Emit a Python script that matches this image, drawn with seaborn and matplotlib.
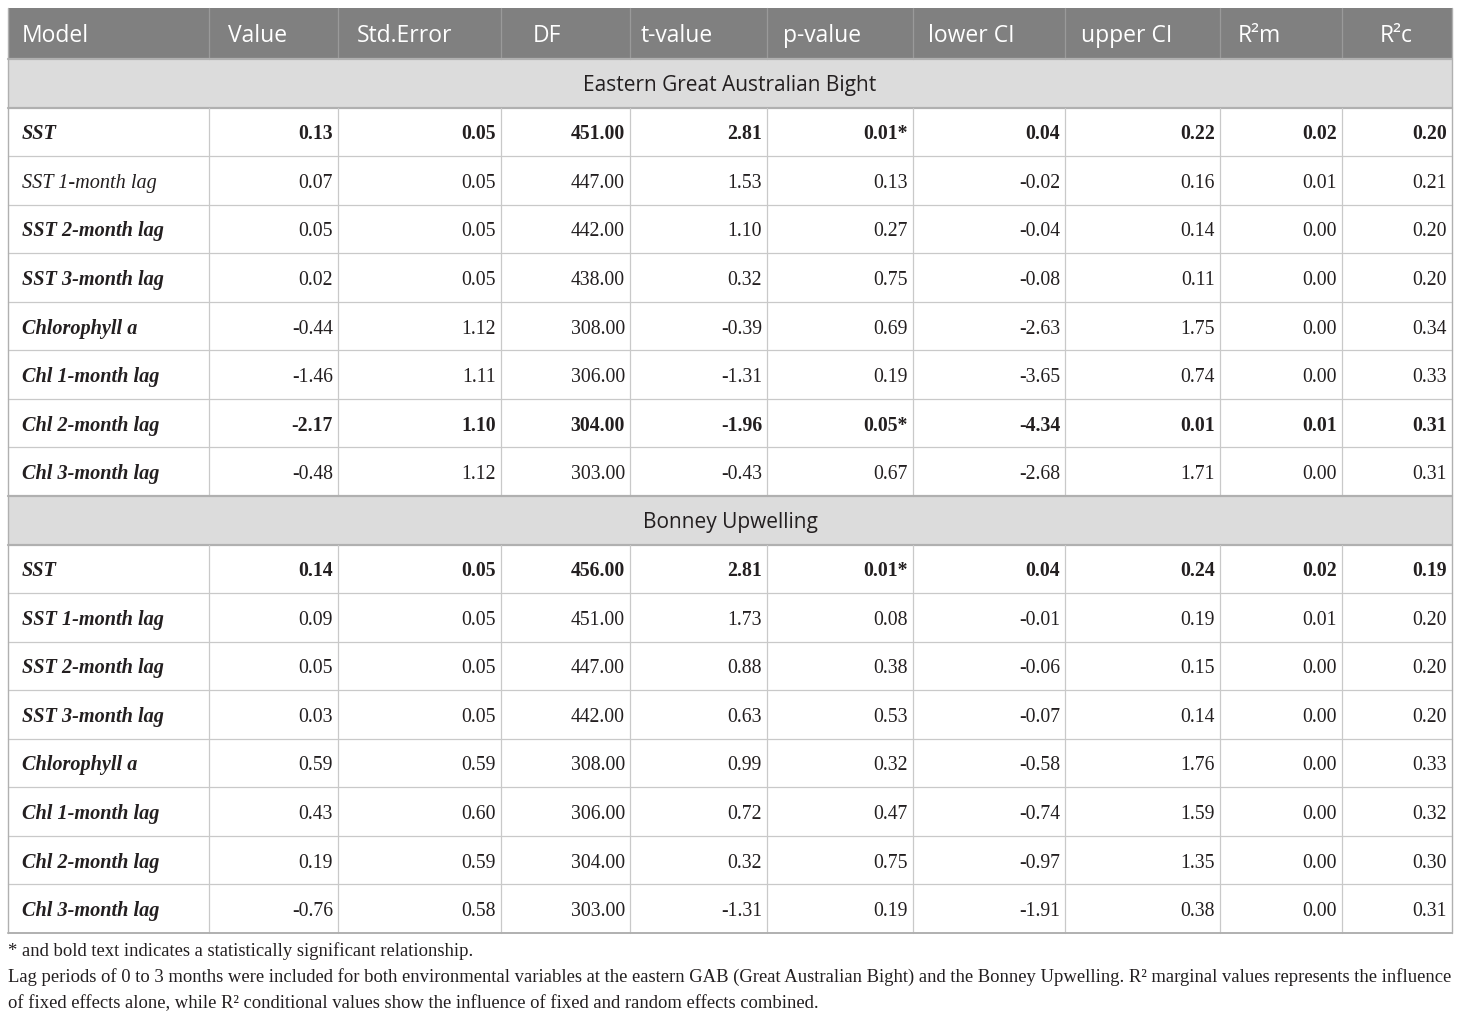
import matplotlib
matplotlib.use("Agg")
import matplotlib.pyplot as plt
import seaborn as sns
from matplotlib.patches import Rectangle

# ---------------- data ----------------
columns = ["Model", "Value", "Std.Error", "DF", "t-value", "p-value",
           "lower CI", "upper CI", "R\u00b2m", "R\u00b2c"]
sections = ["Eastern Great Australian Bight", "Bonney Upwelling"]
models = ["SST", "SST 1-month lag", "SST 2-month lag", "SST 3-month lag",
          "Chlorophyll a", "Chl 1-month lag", "Chl 2-month lag", "Chl 3-month lag"]

egab_value = [0.13, 0.07, 0.05, 0.02, -0.44, -1.46, -2.17, -0.48]
egab_se = [0.05, 0.05, 0.05, 0.05, 1.12, 1.11, 1.10, 1.12]
egab_df = [451.00, 447.00, 442.00, 438.00, 308.00, 306.00, 304.00, 303.00]
egab_t = [2.81, 1.53, 1.10, 0.32, -0.39, -1.31, -1.96, -0.43]
egab_p = [0.01, 0.13, 0.27, 0.75, 0.69, 0.19, 0.05, 0.67]
egab_lo = [0.04, -0.02, -0.04, -0.08, -2.63, -3.65, -4.34, -2.68]
egab_hi = [0.22, 0.16, 0.14, 0.11, 1.75, 0.74, 0.01, 1.71]
egab_r2m = [0.02, 0.01, 0.00, 0.00, 0.00, 0.00, 0.01, 0.00]
egab_r2c = [0.20, 0.21, 0.20, 0.20, 0.34, 0.33, 0.31, 0.31]
egab_sig = [True, False, False, False, False, False, True, False]
egab_model_bold = [True, False, True, True, True, True, True, True]

bu_value = [0.14, 0.09, 0.05, 0.03, 0.59, 0.43, 0.19, -0.76]
bu_se = [0.05, 0.05, 0.05, 0.05, 0.59, 0.60, 0.59, 0.58]
bu_df = [456.00, 451.00, 447.00, 442.00, 308.00, 306.00, 304.00, 303.00]
bu_t = [2.81, 1.73, 0.88, 0.63, 0.99, 0.72, 0.32, -1.31]
bu_p = [0.01, 0.08, 0.38, 0.53, 0.32, 0.47, 0.75, 0.19]
bu_lo = [0.04, -0.01, -0.06, -0.07, -0.58, -0.74, -0.97, -1.91]
bu_hi = [0.24, 0.19, 0.15, 0.14, 1.76, 1.59, 1.35, 0.38]
bu_r2m = [0.02, 0.01, 0.00, 0.00, 0.00, 0.00, 0.00, 0.00]
bu_r2c = [0.19, 0.20, 0.20, 0.20, 0.33, 0.32, 0.30, 0.31]
bu_sig = [True, False, False, False, False, False, False, False]
bu_model_bold = [True, True, True, True, True, True, True, True]

footnotes = [
    "* and bold text indicates a statistically significant relationship.",
    "Lag periods of 0 to 3 months were included for both environmental variables at the eastern GAB "
    "(Great Australian Bight) and the Bonney Upwelling. R\u00b2 marginal values represents the influence",
    "of fixed effects alone, while R\u00b2 conditional values show the influence of fixed and random effects combined.",
]

groups = [
    (sections[0], [egab_value, egab_se, egab_df, egab_t, egab_p, egab_lo, egab_hi, egab_r2m, egab_r2c],
     egab_sig, egab_model_bold),
    (sections[1], [bu_value, bu_se, bu_df, bu_t, bu_p, bu_lo, bu_hi, bu_r2m, bu_r2c],
     bu_sig, bu_model_bold),
]

# ---------------- layout ----------------
sns.set_theme(style="white")
plt.rcParams["font.family"] = ["Liberation Serif", "DejaVu Serif"]

W, H = 1460, 1017
fig = plt.figure(figsize=(W / 100, H / 100), dpi=100)
ax = fig.add_axes([0, 0, 1, 1])
ax.set_xlim(0, W)
ax.set_ylim(H, 0)
ax.axis("off")

col_edges = [8, 209, 338, 501, 630, 767, 913, 1065, 1220, 1342, 1452]
head_text_x = [22, 228, 357, 533, 641, 783, 928, 1081, 1238, 1380]
top, head_bot = 8, 59
row_h = 48.55
n_body = 2 * (1 + len(models))
row_edges = [top, head_bot] + [head_bot + row_h * (k + 1) for k in range(n_body)]

HEAD_BG = "#808080"
SEC_BG = "#dcdcdc"
GRID = "#c9c9c9"
SEC_LINE = "#b0b0b0"
TXT = "#231f20"
SANS = ["Open Sans", "DejaVu Sans"]
SERIF = ["Liberation Serif", "DejaVu Serif"]
NUM_FS = 14.2
MODEL_FS = 14.6

# header
ax.add_patch(Rectangle((col_edges[0], top), col_edges[-1] - col_edges[0], head_bot - top,
                       facecolor=HEAD_BG, edgecolor="none", zorder=1))
for x in col_edges[1:-1]:
    ax.plot([x, x], [top, head_bot], color="#9a9a9a", lw=0.9, zorder=2)
for name, tx in zip(columns, head_text_x):
    ax.text(tx, 42.5, name, ha="left", va="baseline", color="white",
            fontsize=16.5, family=SANS, zorder=3)

r = 0
for sec_name, cols, sig, mbold in groups:
    y0, y1 = row_edges[1 + r], row_edges[2 + r]
    ax.add_patch(Rectangle((col_edges[0], y0), col_edges[-1] - col_edges[0], y1 - y0,
                           facecolor=SEC_BG, edgecolor="none", zorder=1))
    ax.text((col_edges[0] + col_edges[-1]) / 2, (y0 + y1) / 2 + 8, sec_name, ha="center",
            va="baseline", color=TXT, fontsize=15.0, family=SANS, zorder=3)
    ax.plot([col_edges[0], col_edges[-1]], [y0, y0], color=SEC_LINE, lw=1.6, zorder=2)
    ax.plot([col_edges[0], col_edges[-1]], [y1, y1], color=SEC_LINE, lw=1.6, zorder=2)
    r += 1
    for i, m in enumerate(models):
        y0, y1 = row_edges[1 + r], row_edges[2 + r]
        yb = (y0 + y1) / 2 + 7.5
        ax.text(col_edges[0] + 14, yb, m, ha="left", va="baseline", color=TXT,
                fontsize=MODEL_FS, family=SERIF, style="italic",
                weight="bold" if mbold[i] else "normal", zorder=3)
        for j, vals in enumerate(cols):
            s = f"{vals[i]:.2f}"
            if j == 4 and sig[i]:
                s += "*"
            ax.text(col_edges[j + 2] - 5, yb, s, ha="right", va="baseline", color=TXT,
                    fontsize=NUM_FS, family=SERIF, weight="bold" if sig[i] else "normal", zorder=3)
        for x in col_edges[1:-1]:
            ax.plot([x, x], [y0, y1], color=GRID, lw=0.9, zorder=2)
        if i < len(models) - 1:
            ax.plot([col_edges[0], col_edges[-1]], [y1, y1], color=GRID, lw=0.9, zorder=2)
        r += 1

bottom = row_edges[-1]
ax.plot([col_edges[0], col_edges[-1]], [bottom, bottom], color=SEC_LINE, lw=1.4, zorder=2)
for x in (col_edges[0], col_edges[-1]):
    ax.plot([x, x], [top, bottom], color="#b0b0b0", lw=1.0, zorder=2)

for k, line in enumerate(footnotes):
    ax.text(8, 956 + 26 * k, line, ha="left", va="baseline", color=TXT,
            fontsize=13.4, family=SERIF, zorder=3)

fig.savefig("out.png", dpi=100, facecolor="white")
